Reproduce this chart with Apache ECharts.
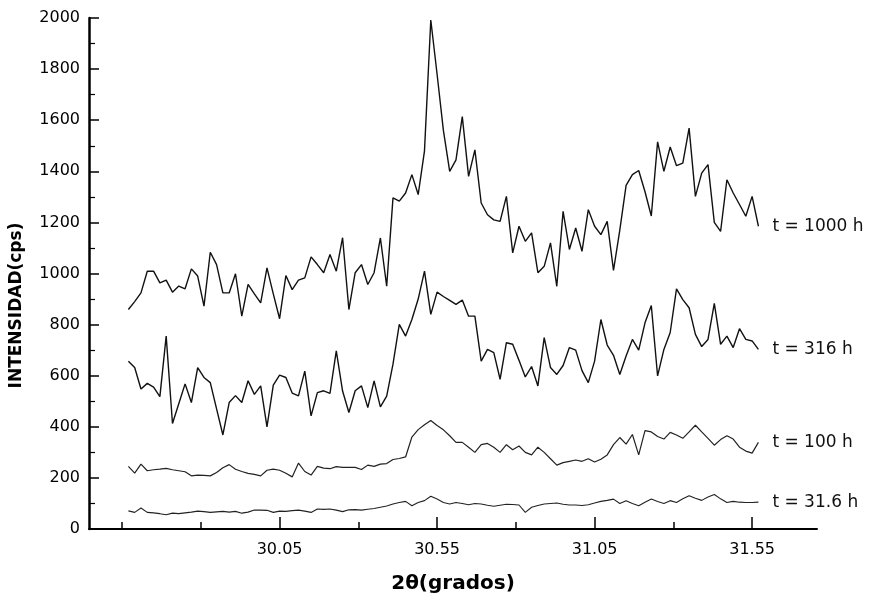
<!DOCTYPE html>
<html>
<head>
<meta charset="utf-8">
<script src="https://cdn.jsdelivr.net/npm/echarts@6/dist/echarts.min.js"></script>
<style>
  html, body { margin: 0; padding: 0; background: #fff; }
  #chart { width: 871px; height: 599px; }
</style>
</head>
<body>
<div id="chart"></div>
<script>
// 2θ scan grid: 29.57° to 31.57° in 0.02° steps
const scanStart = 29.57;
const scanStep = 0.02;
const scanPoints = 101;
const angles = [];
for (let i = 0; i < scanPoints; i++) angles.push(+(scanStart + scanStep * i).toFixed(2));

// Intensity (cps) for each ageing time
const counts1000h = [859,890,924,1009,1009,963,974,927,951,940,
  1018,990,872,1083,1035,924,924,999,833,957,
  920,885,1022,920,823,992,937,974,983,1065,
  1035,1003,1074,1009,1140,859,1003,1035,957,1003,
  1139,950,1296,1283,1315,1387,1309,1480,1992,1780,
  1560,1400,1445,1614,1380,1484,1276,1230,1210,1204,
  1302,1081,1185,1126,1159,1003,1028,1120,950,1243,
  1094,1178,1087,1250,1185,1152,1204,1012,1170,1345,
  1387,1403,1320,1225,1515,1400,1495,1422,1432,1569,
  1302,1393,1426,1200,1165,1367,1315,1270,1224,1302,
  1185];
const counts316h = [657,632,548,570,555,518,755,413,490,568,
  495,632,593,573,470,368,495,522,495,580,
  527,560,400,563,602,593,532,521,618,443,
  534,541,531,697,540,456,541,560,475,580,
  478,520,645,801,755,820,900,1009,840,927,
  910,895,879,896,833,833,657,703,690,586,
  729,723,660,595,636,560,749,632,605,640,
  710,700,620,573,657,820,720,680,605,677,
  742,700,807,875,599,703,769,940,898,866,
  762,714,742,883,723,755,710,784,742,736,
  703];
const counts100h = [245,219,254,228,232,234,237,232,228,224,
  208,211,210,208,221,240,252,234,225,218,
  214,208,230,234,230,218,204,258,225,211,
  245,238,236,244,241,241,241,233,250,245,
  254,256,272,276,282,360,389,408,425,405,
  388,365,339,339,320,300,330,335,320,300,
  330,310,325,300,290,320,300,275,250,260,
  265,270,265,275,262,273,290,330,358,332,
  370,290,385,380,362,352,378,368,355,380,
  406,380,355,328,350,365,352,320,305,297,
  339];
const counts31h = [71,65,82,65,63,60,56,62,60,63,
  66,70,68,65,67,69,66,69,62,66,
  74,74,73,65,70,69,72,74,70,65,
  78,77,78,74,68,75,76,74,77,80,
  85,90,98,104,108,91,104,111,128,117,
  104,98,104,100,95,100,98,93,89,93,
  97,96,94,65,85,92,98,100,102,97,
  94,94,92,95,102,108,112,117,100,111,
  100,91,105,117,108,100,111,104,118,130,
  120,112,125,135,118,104,108,105,104,104,
  105];

const seriesNames = ['t = 1000 h', 't = 316 h', 't = 100 h', 't = 31.6 h'];
const seriesCounts = [counts1000h, counts316h, counts100h, counts31h];

// Axis ticks and labels
const xMin = 29.445, xMax = 31.756;
const xTickValues = [29.55, 29.80, 30.05, 30.30, 30.55, 30.80, 31.05, 31.30, 31.55];
const xLabelValues = [30.05, 30.55, 31.05, 31.55];
const yMin = 0, yMax = 2000, yStep = 200;

const font = 'DejaVu Sans';
const lineColors = ['#111', '#111', '#222', '#222'];
const lineWidths = [1.4, 1.4, 1.2, 1.1];

const chart = echarts.init(document.getElementById('chart'), null, { renderer: 'canvas' });

const series = seriesCounts.map((arr, k) => ({
  name: seriesNames[k],
  type: 'line',
  xAxisIndex: 0,
  symbol: 'none',
  data: angles.map((a, i) => [a, arr[i]]),
  lineStyle: { color: lineColors[k], width: lineWidths[k] },
  endLabel: {
    show: true,
    formatter: seriesNames[k],
    distance: 14,
    fontFamily: font,
    fontSize: 17,
    color: '#111'
  },
  silent: true
}));

chart.setOption({
  animation: false,
  backgroundColor: '#fff',
  grid: { left: 88, right: 54, top: 18, bottom: 69 },
  xAxis: [{
    type: 'value',
    min: xMin,
    max: xMax,
    name: '2θ(grados)',
    nameLocation: 'middle',
    nameGap: 45,
    nameTextStyle: { fontFamily: font, fontWeight: 'bold', fontSize: 20, color: '#000' },
    axisLine: { show: true, onZero: false, lineStyle: { color: '#000', width: 2 } },
    axisTick: { show: true, inside: true, length: 7, customValues: xTickValues, lineStyle: { color: '#000', width: 1.5 } },
    axisLabel: {
      show: true, customValues: xLabelValues, margin: 13,
      fontFamily: font, fontSize: 16, color: '#000',
      formatter: v => v.toFixed(2)
    },
    splitLine: { show: false }
  }, {
    // longer ticks under the labelled angles
    type: 'value',
    min: xMin,
    max: xMax,
    position: 'bottom',
    axisLine: { show: false },
    axisTick: { show: true, inside: true, length: 12, customValues: xLabelValues, lineStyle: { color: '#000', width: 1.5 } },
    axisLabel: { show: false },
    splitLine: { show: false }
  }],
  yAxis: {
    type: 'value',
    min: yMin,
    max: yMax,
    interval: yStep,
    name: 'INTENSIDAD(cps)',
    nameLocation: 'middle',
    nameGap: 64,
    nameTextStyle: { fontFamily: font, fontWeight: 'bold', fontSize: 17, color: '#000', padding: [0, 64, 0, 0] },
    axisLine: { show: true, lineStyle: { color: '#000', width: 2.5 } },
    axisTick: { show: true, inside: true, length: 10, lineStyle: { color: '#000', width: 1.5 } },
    minorTick: { show: true, splitNumber: 2, length: 6, lineStyle: { color: '#000', width: 1.2 } },
    axisLabel: { margin: 9, fontFamily: font, fontSize: 16, color: '#000', formatter: v => String(v) },
    splitLine: { show: false }
  },
  series: series
});
</script>
</body>
</html>
